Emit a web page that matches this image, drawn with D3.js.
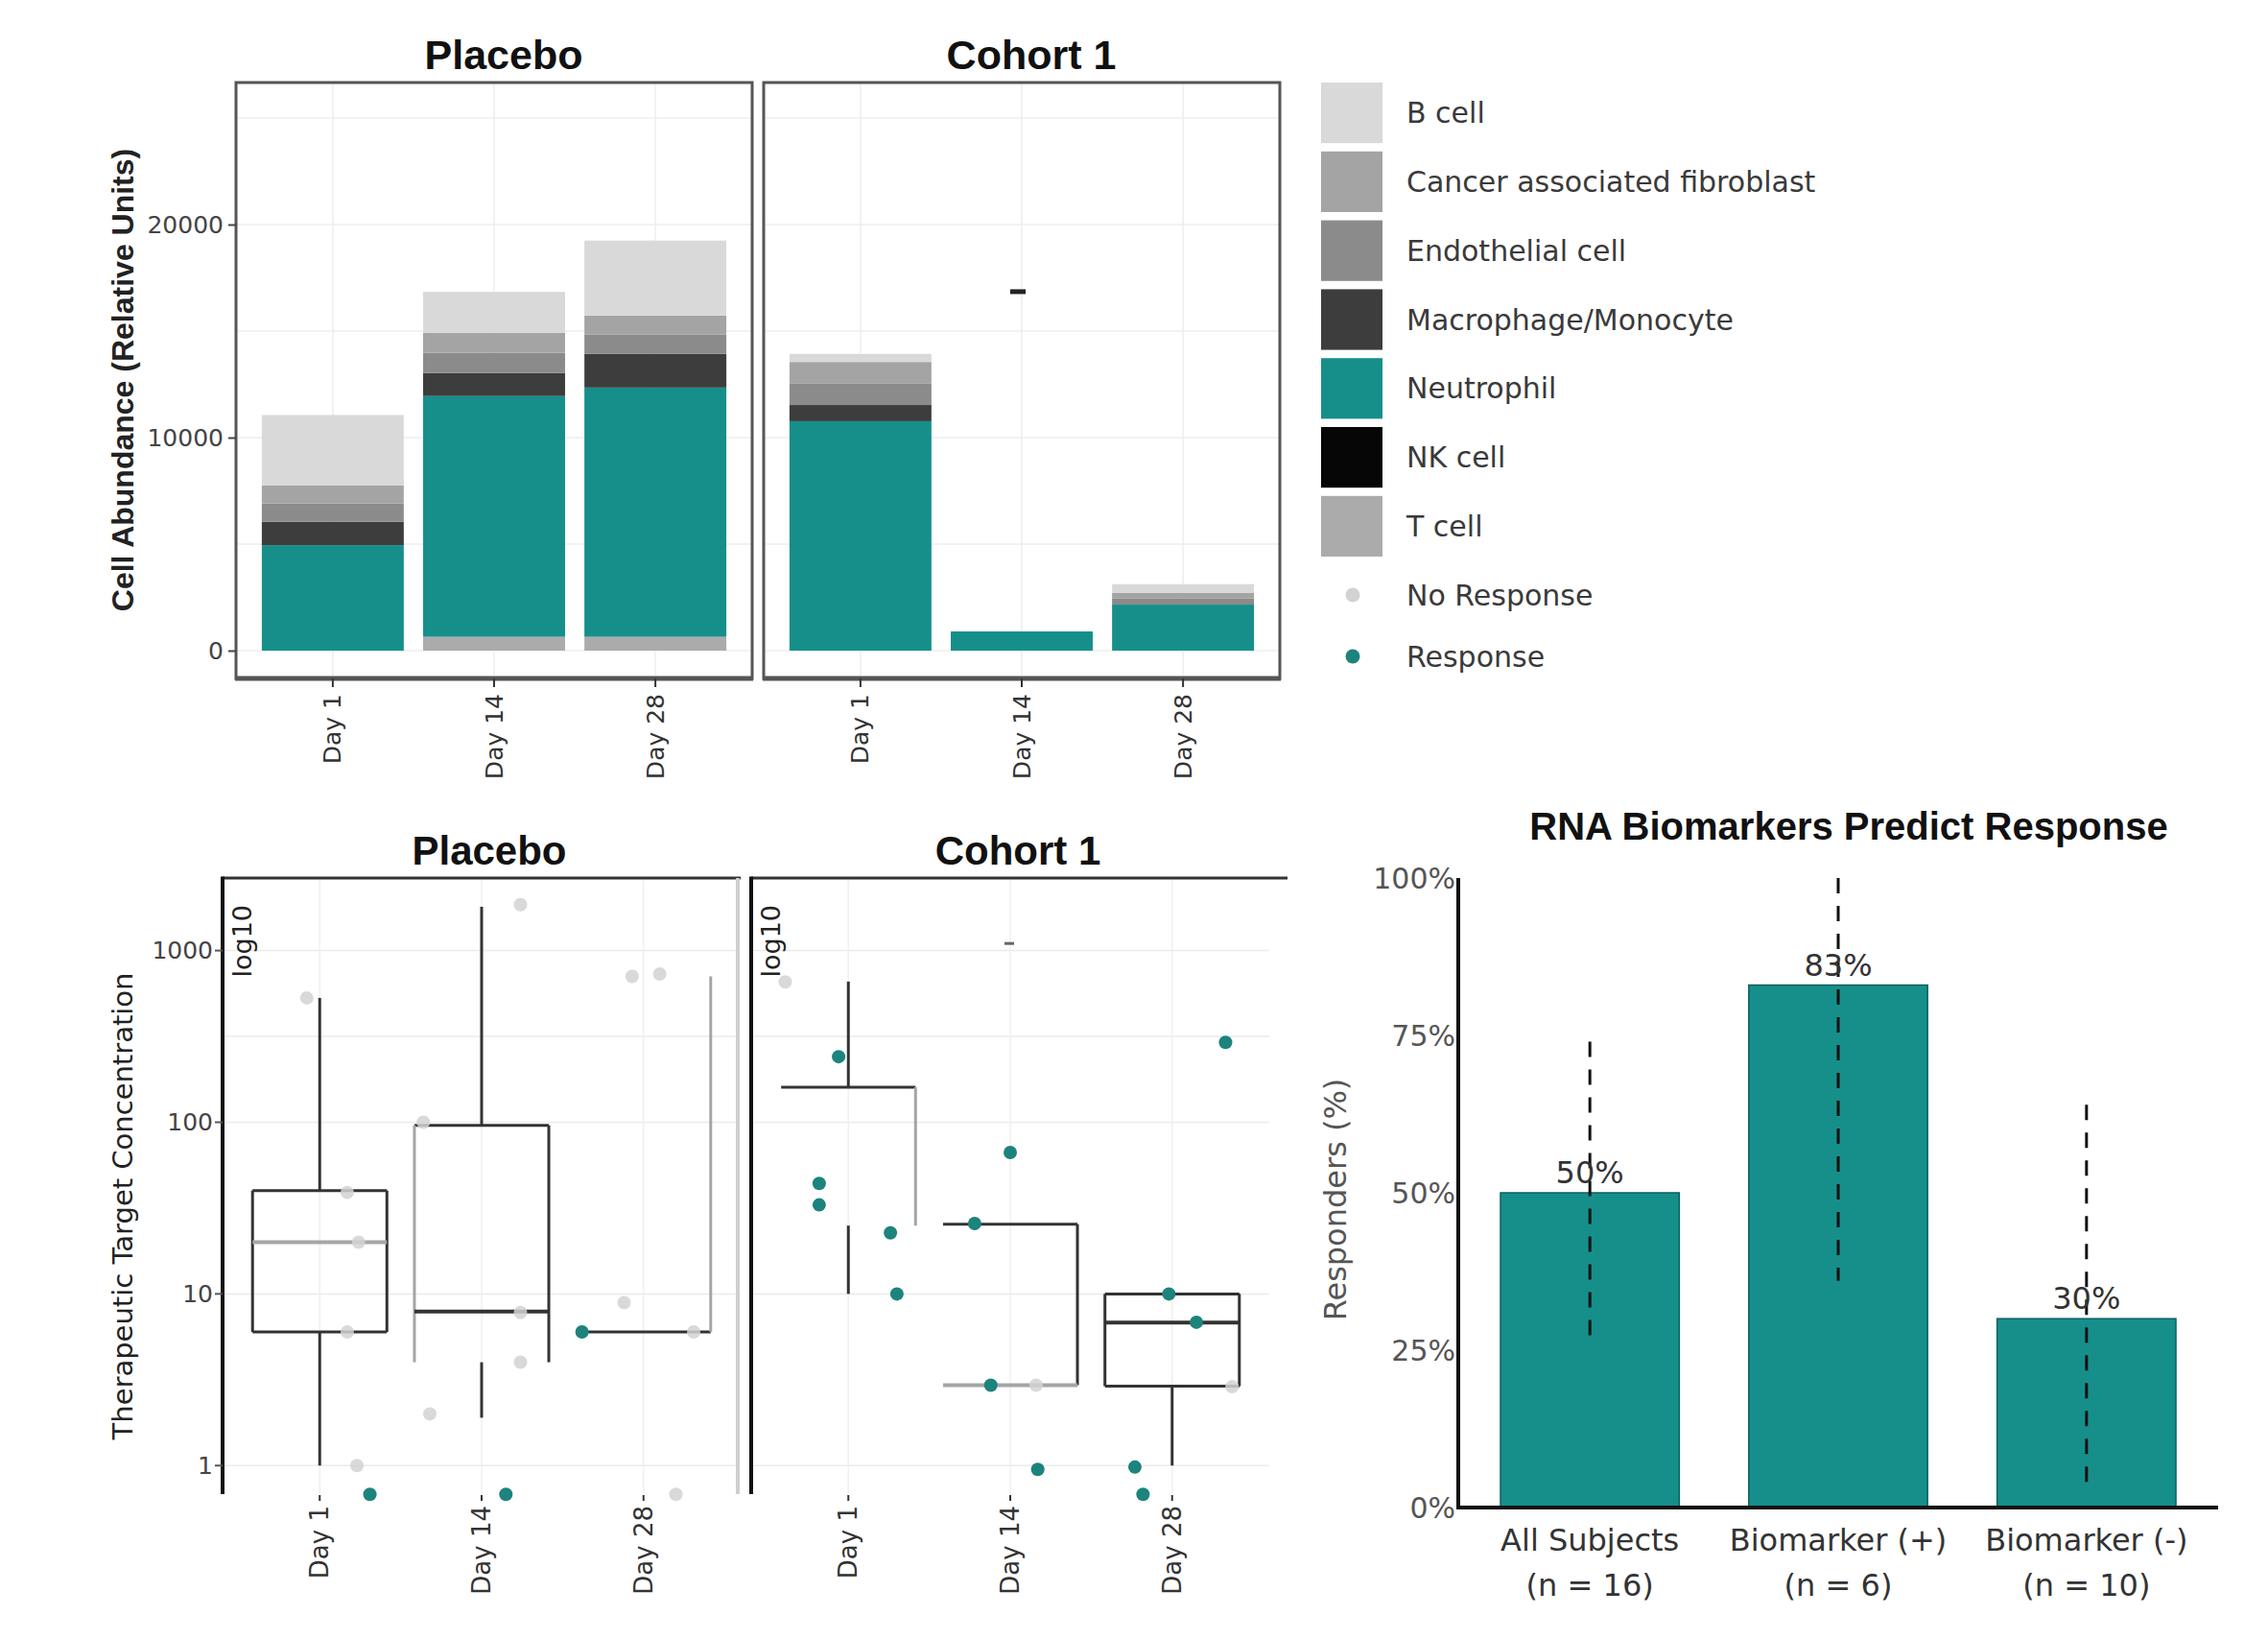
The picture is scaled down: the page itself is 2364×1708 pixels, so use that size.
<!DOCTYPE html>
<html><head><meta charset="utf-8">
<script src="https://cdn.jsdelivr.net/npm/d3@7"></script>
<style>body{margin:0;background:#fff} svg{display:block}</style>
</head><body><svg id="chart" width="2364" height="1708"></svg>
<script>
// ---------------- DATA ----------------
const days = ["Day 1", "Day 14", "Day 28"];
const cohorts = ["Placebo", "Cohort 1"];
const cellTypes = ["B cell", "Cancer associated fibroblast", "Endothelial cell", "Macrophage/Monocyte", "Neutrophil", "NK cell", "T cell"];
const cellColors = ["#d9d9d9", "#a4a4a4", "#8b8b8b", "#3d3d3d", "#168f8b", "#060606", "#ababab"];
// rows follow cellTypes, columns follow days
const placeboAbundance = [
  [3300, 1920, 3520],
  [850, 940, 900],
  [860, 950, 900],
  [1100, 1080, 1580],
  [4950, 11300, 11700],
  [0, 0, 0],
  [0, 650, 650]
];
const cohort1Abundance = [
  [380, 0, 400],
  [1020, 0, 280],
  [1000, 0, 280],
  [760, 0, 0],
  [10770, 900, 2160],
  [0, 0, 0],
  [0, 0, 0]
];
const abundanceTicks = [0, 10000, 20000];
const abundanceGrid = [0, 5000, 10000, 15000, 20000, 25000];
const abundanceMarks = [["Cohort 1", "Day 14", 16850]];

const responseGroups = ["No Response", "Response"];
const responseColors = ["#d2d2d2", "#1d837d"];
const concTicks = [1, 10, 100, 1000];
const concTickLabels = ["1", "10", "100", "1000"];
const concGrid = [1, 10, 100, 316.2, 1000];
// [day, lower whisker, q1, median, q3, upper whisker]
const placeboBoxStats = [
  ["Day 1", 1, 6, 20, 40, 530],
  ["Day 14", 1.9, 4.0, 7.9, 96, 1800],
  ["Day 28", null, 6.0, null, 707, null]
];
const cohort1BoxStats = [
  ["Day 1", 10, 25, null, 160, 660],
  ["Day 14", null, 2.94, 2.94, 25.5, null],
  ["Day 28", 1, 2.9, 6.8, 10, null]
];
// outline parts visible in the reference: t top, b bottom, l left, r right, m median (capital = faint)
const placeboBoxOutline = ["tblrM", "tLrm", "bR"];
const cohort1BoxOutline = ["tR", "trBM", "tblrm"];
// [day, value, response index, jitter (fraction of day spacing)]
const placeboPoints = [
  ["Day 1", 530, 0, -0.08], ["Day 1", 39, 0, 0.17], ["Day 1", 20, 0, 0.24], ["Day 1", 6, 0, 0.17], ["Day 1", 1, 0, 0.23], ["Day 1", 0.68, 1, 0.31],
  ["Day 14", 100, 0, -0.36], ["Day 14", 1850, 0, 0.24], ["Day 14", 7.8, 0, 0.24], ["Day 14", 4.0, 0, 0.24], ["Day 14", 2.0, 0, -0.32], ["Day 14", 0.68, 1, 0.15],
  ["Day 28", 707, 0, -0.07], ["Day 28", 730, 0, 0.10], ["Day 28", 8.9, 0, -0.12], ["Day 28", 6.0, 1, -0.38], ["Day 28", 6.0, 0, 0.31], ["Day 28", 0.68, 0, 0.20]
];
const cohort1Points = [
  ["Day 1", 657, 0, -0.39], ["Day 1", 241, 1, -0.06], ["Day 1", 44, 1, -0.18], ["Day 1", 33, 1, -0.18], ["Day 1", 22.7, 1, 0.26], ["Day 1", 10, 1, 0.30],
  ["Day 14", 66.7, 1, 0.0], ["Day 14", 25.7, 1, -0.22], ["Day 14", 2.94, 1, -0.12], ["Day 14", 2.94, 0, 0.16], ["Day 14", 0.95, 1, 0.17],
  ["Day 28", 292, 1, 0.33], ["Day 28", 10, 1, -0.02], ["Day 28", 6.84, 1, 0.15], ["Day 28", 2.88, 0, 0.37], ["Day 28", 0.98, 1, -0.23], ["Day 28", 0.68, 1, -0.18]
];
const concMarks = [["Cohort 1", "Day 14", 1100]];

const rnaGroups = ["All Subjects", "Biomarker (+)", "Biomarker (-)"];
const rnaCounts = ["(n = 16)", "(n = 6)", "(n = 10)"];
const rnaResponders = [50, 83, 30];
const rnaCiLow = [27, 36, 3];
const rnaCiHigh = [74, 100, 64];
const rnaTicks = [0, 25, 50, 75, 100];

// ---------------- DRAWING ----------------
const svg = d3.select("#chart");
svg.append("rect").attr("width", 2364).attr("height", 1708).attr("fill", "#fff");
const FONT = "'DejaVu Sans', sans-serif";
const TFONT = "'Liberation Sans', Arial, sans-serif";

function line(g, x1, y1, x2, y2, color, w) {
  return g.append("line").attr("x1", x1).attr("y1", y1).attr("x2", x2).attr("y2", y2)
    .attr("stroke", color).attr("stroke-width", w);
}

// ===== Top: stacked bars =====
const topY0 = 86, topY1 = 707;
const yTop = d3.scaleLinear().domain([-1306, 26667]).range([topY1, topY0]);
const topPanels = [
  { cohort: cohorts[0], x0: 246, x1: 784, data: placeboAbundance },
  { cohort: cohorts[1], x0: 796, x1: 1334, data: cohort1Abundance }
];
const stackKeys = cellTypes.slice().reverse();

topPanels.forEach((p, pi) => {
  const g = svg.append("g");
  const x = d3.scalePoint().domain(days).range([p.x0, p.x1]).padding(0.6);
  const bw = x.step() * 0.88;
  // grid
  abundanceGrid.forEach(v => line(g, p.x0, yTop(v), p.x1, yTop(v), "#eeeeee", 1.5));
  days.forEach(d => line(g, x(d), topY0, x(d), topY1, "#eeeeee", 1.5));
  // stacked bars
  const rows = days.map((d, j) => {
    const r = { day: d };
    cellTypes.forEach((c, i) => r[c] = p.data[i][j]);
    return r;
  });
  const series = d3.stack().keys(stackKeys)(rows);
  series.forEach(s => {
    g.selectAll(null).data(s).join("rect")
      .attr("x", d => x(d.data.day) - bw / 2).attr("width", bw)
      .attr("y", d => yTop(d[1]))
      .attr("height", d => Math.max(0, yTop(d[0]) - yTop(d[1])))
      .attr("fill", cellColors[cellTypes.indexOf(s.key)]);
  });
  abundanceMarks.filter(m => m[0] === p.cohort).forEach(m => {
    g.append("rect").attr("x", x(m[1]) - 12).attr("y", yTop(m[2]) - 2.5).attr("width", 16).attr("height", 5).attr("fill", "#222");
  });
  // frame
  g.append("rect").attr("x", p.x0).attr("y", topY0).attr("width", p.x1 - p.x0).attr("height", topY1 - topY0)
    .attr("fill", "none").attr("stroke", "#555").attr("stroke-width", 3);
  line(g, p.x0 - 1, topY1, p.x1 + 1, topY1, "#555", 5);
  // x axis ticks + labels
  days.forEach(d => {
    line(g, x(d), topY1, x(d), topY1 + 9, "#333", 2);
    g.append("text").attr("transform", `translate(${x(d)},${topY1 + 16}) rotate(-90)`)
      .attr("text-anchor", "end").attr("dominant-baseline", "central")
      .attr("font-family", FONT).attr("font-size", 25).attr("fill", "#333").text(d);
  });
  // title
  g.append("text").attr("x", (p.x0 + p.x1) / 2 + 10).attr("y", 72).attr("text-anchor", "middle")
    .attr("font-family", TFONT).attr("font-weight", "bold").attr("font-size", 43).attr("fill", "#111").text(p.cohort);
  if (pi === 0) {
    const ax = g.append("g").attr("transform", `translate(${p.x0},0)`)
      .call(d3.axisLeft(yTop).tickValues(abundanceTicks).tickFormat(d3.format("d")).tickSize(8).tickPadding(5));
    ax.select(".domain").remove();
    ax.selectAll(".tick line").attr("stroke", "#444").attr("stroke-width", 2);
    ax.selectAll(".tick text").attr("font-family", FONT).attr("font-size", 25).attr("fill", "#444");
  }
});
svg.append("text").attr("transform", "translate(128,396) rotate(-90)").attr("text-anchor", "middle")
  .attr("dominant-baseline", "central").attr("font-family", TFONT).attr("font-weight", "bold")
  .attr("font-size", 32).attr("fill", "#222").text("Cell Abundance (Relative Units)");

// ===== Legend =====
const lg = svg.append("g");
const keyY = d3.scaleBand().domain(cellTypes).range([86, 580]).paddingInner(0.12);
cellTypes.forEach((c, i) => {
  lg.append("rect").attr("x", 1377).attr("y", keyY(c)).attr("width", 64).attr("height", keyY.bandwidth())
    .attr("fill", cellColors[i]);
  lg.append("text").attr("x", 1466).attr("y", keyY(c) + keyY.bandwidth() / 2).attr("dominant-baseline", "central")
    .attr("font-family", FONT).attr("font-size", 30).attr("fill", "#3a3a3a").text(c);
});
const respY = d3.scalePoint().domain(responseGroups).range([620, 684]);
responseGroups.forEach((r, i) => {
  lg.append("circle").attr("cx", 1410).attr("cy", respY(r)).attr("r", 7.5).attr("fill", responseColors[i]);
  lg.append("text").attr("x", 1466).attr("y", respY(r)).attr("dominant-baseline", "central")
    .attr("font-family", FONT).attr("font-size", 30).attr("fill", "#3a3a3a").text(r);
});

// ===== Bottom-left: box plots (log scale) =====
const botY0 = 915, botY1 = 1557;
const yConc = d3.scaleLog().domain([0.682, 2646]).range([botY1, botY0]);
const botPanels = [
  { cohort: cohorts[0], x0: 232, x1: 772, stats: placeboBoxStats, outline: placeboBoxOutline, points: placeboPoints },
  { cohort: cohorts[1], x0: 783, x1: 1323, stats: cohort1BoxStats, outline: cohort1BoxOutline, points: cohort1Points }
];
botPanels.forEach((p, pi) => {
  const g = svg.append("g");
  const x = d3.scalePoint().domain(days).range([p.x0, p.x1]).padding(0.6);
  const hw = x.step() * 0.83 / 2;
  concGrid.forEach(v => line(g, p.x0, yConc(v), p.x1, yConc(v), "#ebebeb", 1.5));
  days.forEach(d => line(g, x(d), botY0, x(d), botY1, "#f0f0f0", 1.5));
  // boxes
  p.stats.forEach((s, i) => {
    const [day, low, q1, med, q3, high] = s;
    const cx = x(day);
    if (high != null) line(g, cx, yConc(q3), cx, yConc(high), "#333", 3);
    if (low != null) line(g, cx, yConc(q1), cx, yConc(low), "#333", 3);
    for (const ch of p.outline[i]) {
      const col = ch === ch.toUpperCase() ? "#a5a5a5" : "#333";
      const k = ch.toLowerCase();
      if (k === "t") line(g, cx - hw, yConc(q3), cx + hw, yConc(q3), col, 3);
      if (k === "b") line(g, cx - hw, yConc(q1), cx + hw, yConc(q1), col, 3);
      if (k === "l") line(g, cx - hw, yConc(q3), cx - hw, yConc(q1), col, 3);
      if (k === "r") line(g, cx + hw, yConc(q3), cx + hw, yConc(q1), col, 3);
      if (k === "m" && med != null) line(g, cx - hw, yConc(med), cx + hw, yConc(med), col, 4);
    }
  });
  concMarks.filter(m => m[0] === p.cohort).forEach(m => {
    g.append("rect").attr("x", x(m[1]) - 6).attr("y", yConc(m[2]) - 1.5).attr("width", 10).attr("height", 3).attr("fill", "#666");
  });
  // points
  g.selectAll(null).data(p.points).join("circle")
    .attr("cx", d => x(d[0]) + d[3] * x.step())
    .attr("cy", d => yConc(d[1]))
    .attr("r", 7)
    .attr("fill", d => responseColors[d[2]])
    .attr("opacity", d => d[2] === 0 ? 0.85 : 1);
  // frame
  line(g, p.x0, botY0, p.x1 + (pi === 1 ? 19 : 0), botY0, "#333", 3);
  line(g, p.x0, botY0 - 1.5, p.x0, botY1, "#111", 4);
  if (pi === 0) line(g, p.x1 - 3, botY0, p.x1 - 3, botY1, "#cfcfcf", 4);
  g.append("text").attr("transform", `translate(${p.x0 + 20},${botY0 + 28}) rotate(-90)`)
    .attr("text-anchor", "end").attr("dominant-baseline", "central")
    .attr("font-family", FONT).attr("font-size", 27).attr("fill", "#222").text("log10");
  days.forEach(d => {
    line(g, x(d), botY1 + 1, x(d), botY1 + 7, "#333", 2);
    g.append("text").attr("transform", `translate(${x(d)},${botY1 + 12}) rotate(-90)`)
      .attr("text-anchor", "end").attr("dominant-baseline", "central")
      .attr("font-family", FONT).attr("font-size", 26).attr("fill", "#333").text(d);
  });
  g.append("text").attr("x", (p.x0 + p.x1) / 2 + 8).attr("y", 901).attr("text-anchor", "middle")
    .attr("font-family", TFONT).attr("font-weight", "bold").attr("font-size", 42).attr("fill", "#111").text(p.cohort);
  if (pi === 0) {
    concTicks.forEach((t, i) => {
      line(g, p.x0 - 8, yConc(t), p.x0, yConc(t), "#555", 2);
      g.append("text").attr("x", p.x0 - 10).attr("y", yConc(t)).attr("text-anchor", "end")
        .attr("dominant-baseline", "central").attr("font-family", FONT).attr("font-size", 25)
        .attr("fill", "#444").text(concTickLabels[i]);
    });
  }
});
svg.append("text").attr("transform", "translate(128,1257) rotate(-90)").attr("text-anchor", "middle")
  .attr("dominant-baseline", "central").attr("font-family", FONT)
  .attr("font-size", 29).attr("fill", "#222").text("Therapeutic Target Concentration");

// ===== Bottom-right: responder bars =====
const rg = svg.append("g");
const bx0 = 1520, bx1 = 2312, by0 = 915, by1 = 1571;
const yR = d3.scaleLinear().domain([0, 100]).range([by1, by0]);
const xR = d3.scaleBand().domain(rnaGroups).range([bx0, bx1]).paddingInner(0.28).paddingOuter(0.17);
rg.selectAll(null).data(rnaGroups).join("rect")
  .attr("x", d => xR(d)).attr("width", xR.bandwidth())
  .attr("y", (d, i) => yR(rnaResponders[i])).attr("height", (d, i) => yR(0) - yR(rnaResponders[i]))
  .attr("fill", "#168f8b").attr("stroke", "#0f5f5c").attr("stroke-width", 1.5);
rg.selectAll(null).data(rnaGroups).join("line")
  .attr("x1", d => xR(d) + xR.bandwidth() / 2).attr("x2", d => xR(d) + xR.bandwidth() / 2)
  .attr("y1", (d, i) => yR(rnaCiHigh[i])).attr("y2", (d, i) => yR(rnaCiLow[i]))
  .attr("stroke", "#111").attr("stroke-width", 3).attr("stroke-dasharray", "16,13");
rg.selectAll(null).data(rnaGroups).join("text")
  .attr("x", d => xR(d) + xR.bandwidth() / 2).attr("y", (d, i) => yR(rnaResponders[i]) - 10)
  .attr("text-anchor", "middle").attr("font-family", FONT).attr("font-size", 32).attr("fill", "#333")
  .text((d, i) => rnaResponders[i] + "%");
rnaGroups.forEach((d, i) => {
  const cx = xR(d) + xR.bandwidth() / 2;
  rg.append("text").attr("x", cx).attr("y", 1605).attr("text-anchor", "middle").attr("dominant-baseline", "central")
    .attr("font-family", FONT).attr("font-size", 32).attr("fill", "#333").text(d);
  rg.append("text").attr("x", cx).attr("y", 1652).attr("text-anchor", "middle").attr("dominant-baseline", "central")
    .attr("font-family", FONT).attr("font-size", 32).attr("fill", "#333").text(rnaCounts[i]);
});
rnaTicks.forEach(t => {
  rg.append("text").attr("x", bx0 - 3).attr("y", yR(t)).attr("text-anchor", "end").attr("dominant-baseline", "central")
    .attr("font-family", FONT).attr("font-size", 30).attr("fill", "#555").text(t + "%");
});
line(rg, bx0, by0, bx0, by1 + 2, "#111", 4);
line(rg, bx0, by1, bx1, by1, "#111", 4);
rg.append("text").attr("x", 1927).attr("y", 875).attr("text-anchor", "middle")
  .attr("font-family", TFONT).attr("font-weight", "bold").attr("font-size", 40).attr("fill", "#111")
  .text("RNA Biomarkers Predict Response");
rg.append("text").attr("transform", "translate(1392,1250) rotate(-90)").attr("text-anchor", "middle")
  .attr("dominant-baseline", "central").attr("font-family", FONT).attr("font-size", 32).attr("fill", "#555")
  .text("Responders (%)");
</script></body></html>
